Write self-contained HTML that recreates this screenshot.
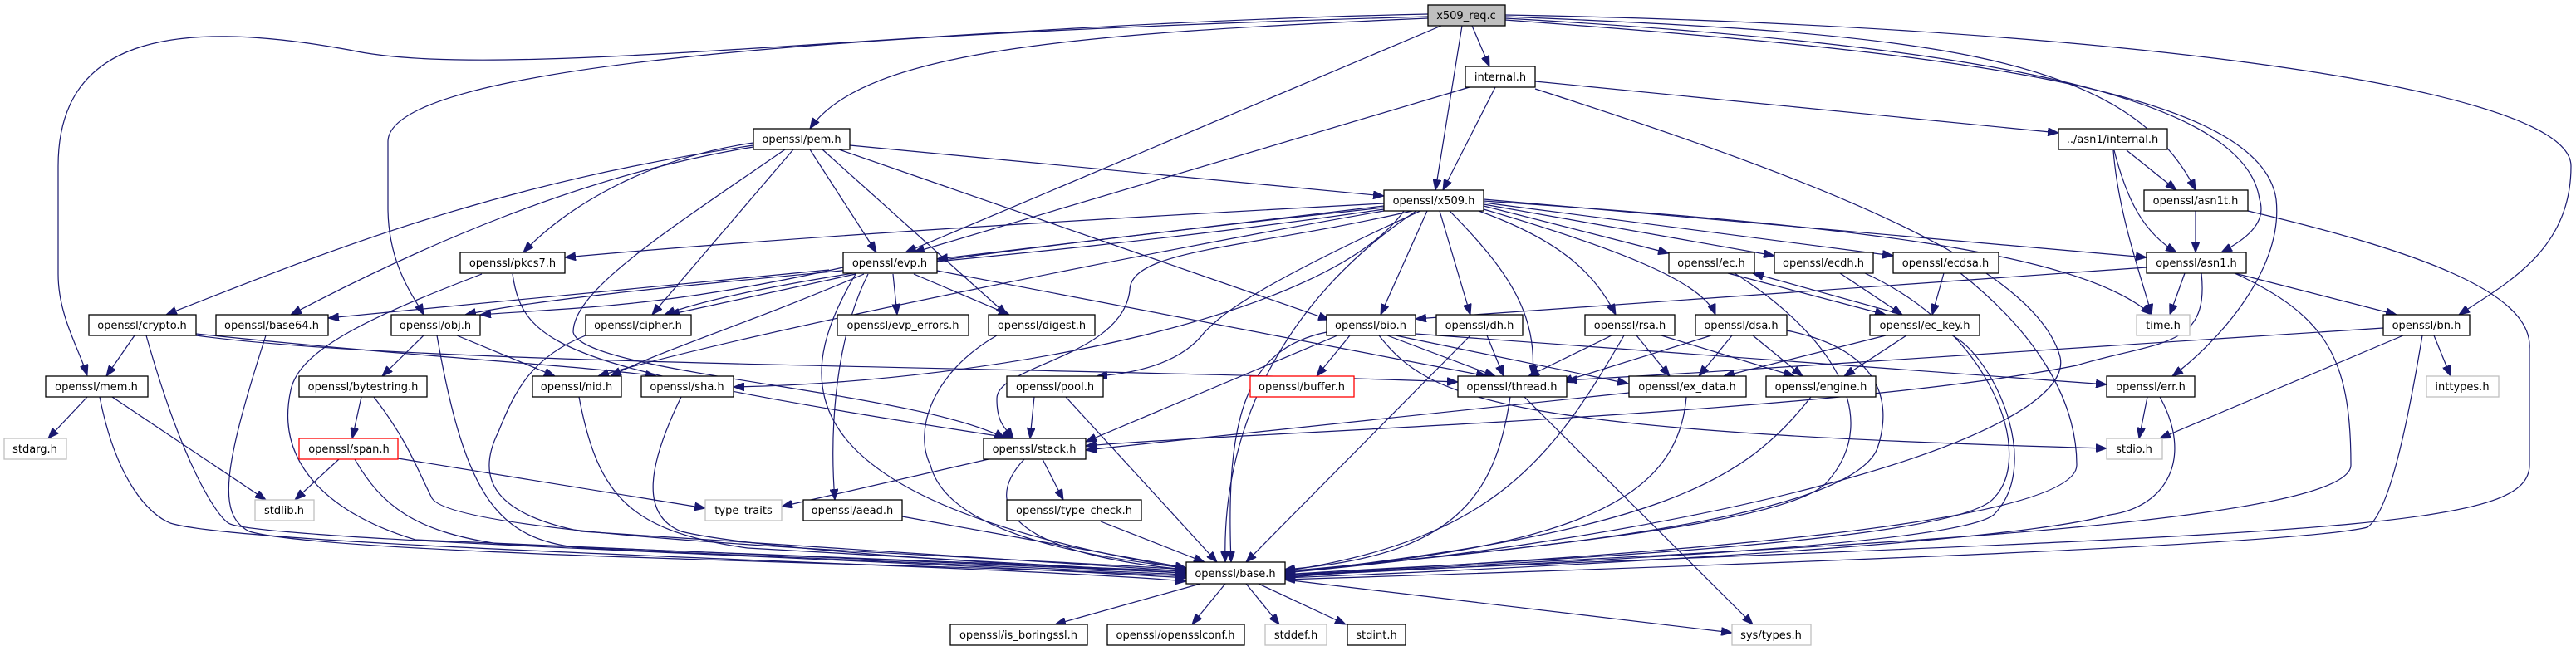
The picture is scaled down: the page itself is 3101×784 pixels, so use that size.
<!DOCTYPE html>
<html><head><meta charset="utf-8"><style>
html,body{margin:0;padding:0;background:#fff;}
svg{display:block;}
.n rect{fill:#fff;stroke:#000;stroke-width:1.3;}
.g rect{fill:#fff;stroke:#bfbfbf;stroke-width:1.3;}
.r rect{fill:#fff;stroke:#ff0000;stroke-width:1.3;}
.s rect{fill:#bfbfbf;stroke:#000;stroke-width:1.3;}
text{font-family:"DejaVu Sans","Liberation Sans",sans-serif;font-size:13px;fill:#000;text-anchor:middle;}
.e path{fill:none;stroke:#191970;stroke-width:1.2;marker-end:url(#a);}
</style></head><body>
<svg width="3101" height="784" viewBox="0 0 3101 784" xmlns="http://www.w3.org/2000/svg">
<defs><marker id="a" markerUnits="userSpaceOnUse" markerWidth="14" markerHeight="10" refX="13" refY="5" orient="auto"><path d="M0,0 L13,5 L0,10 z" fill="#191970" stroke="#191970"/></marker></defs>
<g class="e">
<path d="M1719,17 C1100,30 600,100 420,60 C200,20 70,50 70,200 L70,330 C70,380 95,420 105,452"/>
<path d="M1719,20 C1000,40 470,80 467,170 L467,250 C467,320 500,360 510,379"/>
<path d="M1719,22 C1300,40 1040,60 975,155"/>
<path d="M1735,31 L1090,304"/>
<path d="M1772,31 L1793,80"/>
<path d="M1760,31 L1728,229"/>
<path d="M1812,20 C2300,40 2560,60 2643,229"/>
<path d="M1812,22 C2300,50 2700,100 2720,240 C2730,270 2700,290 2674,304"/>
<path d="M1812,24 C2300,60 2720,100 2740,240 C2750,330 2660,420 2615,453"/>
<path d="M1812,18 C2500,30 3095,100 3095,200 C3095,300 3020,340 2960,379"/>
<path d="M1769,105 L1100,304"/>
<path d="M1800,105 L1737,229"/>
<path d="M1848,98 L2478,160"/>
<path d="M1848,107 C2200,220 2450,320 2480,430 C2500,520 2100,640 1546,690"/>
<path d="M907,175 C600,220 400,300 200,379"/>
<path d="M907,177 C700,210 500,300 350,379"/>
<path d="M907,172 C780,190 680,250 630,304"/>
<path d="M955,180 L785,379"/>
<path d="M975,180 L1055,304"/>
<path d="M990,180 L1212,379"/>
<path d="M1023,175 L1666,236"/>
<path d="M1010,180 L1600,385"/>
<path d="M945,180 C800,280 690,350 690,400 C700,450 1100,470 1210,528"/>
<path d="M2560,181 L2620,229"/>
<path d="M2545,181 C2560,240 2580,280 2620,304"/>
<path d="M2544,181 C2550,260 2580,340 2590,379"/>
<path d="M1666,245 C1200,270 900,290 680,310"/>
<path d="M1666,248 L1128,312"/>
<path d="M1666,250 C1200,300 900,340 800,379"/>
<path d="M1666,252 C1200,320 750,340 560,379"/>
<path d="M1690,254 C1600,380 1200,460 883,466"/>
<path d="M1666,254 C1400,300 900,400 720,453"/>
<path d="M1700,254 C1500,300 1360,300 1360,350 C1350,430 1200,440 1200,480 C1200,510 1210,515 1220,528"/>
<path d="M1710,254 C1500,350 1470,380 1450,400 C1420,440 1360,450 1320,453"/>
<path d="M1705,254 C1560,350 1470,500 1475,677"/>
<path d="M1718,254 L1662,379"/>
<path d="M1733,254 L1770,379"/>
<path d="M1745,254 C1820,330 1850,380 1845,453"/>
<path d="M1780,254 C1880,290 1920,330 1945,379"/>
<path d="M1786,252 C1950,300 2050,340 2065,379"/>
<path d="M1786,248 L2009,305"/>
<path d="M1786,246 L2136,308"/>
<path d="M1786,244 L2279,308"/>
<path d="M1786,240 L2584,310"/>
<path d="M1786,242 C2200,270 2500,300 2590,379"/>
<path d="M2643,254 L2643,304"/>
<path d="M2706,254 C2900,300 3050,350 3045,420 L3045,560 C3045,640 2800,640 1546,692"/>
<path d="M998,325 L395,383"/>
<path d="M1030,330 L805,379"/>
<path d="M1015,322 C800,370 700,370 578,379"/>
<path d="M1100,330 L1215,379"/>
<path d="M1075,330 L1080,379"/>
<path d="M1040,330 C900,390 800,420 735,453"/>
<path d="M1045,330 C1000,420 1000,540 1005,602"/>
<path d="M1030,330 C960,450 920,600 1428,685"/>
<path d="M1128,326 L1790,453"/>
<path d="M2080,329 L2270,379"/>
<path d="M2290,379 L2110,329"/>
<path d="M2088,329 C2200,400 2270,500 2200,580 C2150,640 1700,670 1546,690"/>
<path d="M2215,329 L2290,379"/>
<path d="M2245,329 C2400,400 2450,550 2400,600 C2350,660 1700,680 1546,692"/>
<path d="M2340,329 L2326,379"/>
<path d="M2360,329 C2450,400 2500,480 2500,560 C2500,650 1700,680 1546,694"/>
<path d="M2584,322 L1704,384"/>
<path d="M2630,329 L2612,379"/>
<path d="M2690,329 L2885,379"/>
<path d="M2690,329 C2800,380 2830,430 2830,560 C2830,650 1800,670 1546,696"/>
<path d="M2650,329 C2660,420 2600,410 2500,440 C2200,500 1500,520 1307,537"/>
<path d="M162,404 L128,453"/>
<path d="M176,404 C220,560 260,620 275,630 C300,650 1000,670 1428,696"/>
<path d="M236,404 C500,440 1200,440 1755,460"/>
<path d="M236,402 C500,430 700,440 790,453"/>
<path d="M320,404 C270,560 260,620 300,640 C400,670 1200,680 1428,694"/>
<path d="M510,404 L460,453"/>
<path d="M550,404 L668,453"/>
<path d="M526,404 C560,600 600,650 700,660 L1428,692"/>
<path d="M705,404 C640,430 620,470 600,520 C570,580 600,620 700,640 L1428,688"/>
<path d="M580,330 C450,380 360,420 350,470 C330,560 400,620 500,650 L1428,690"/>
<path d="M617,330 C630,420 680,445 1220,528"/>
<path d="M1200,404 C1120,450 1100,520 1120,560 C1140,640 1300,670 1428,684"/>
<path d="M1625,404 L1585,453"/>
<path d="M1670,404 L1800,453"/>
<path d="M1680,404 L1960,462"/>
<path d="M1704,402 L2536,463"/>
<path d="M1610,404 L1307,532"/>
<path d="M1597,400 C1500,420 1475,500 1482,677"/>
<path d="M1660,404 C1720,480 1800,520 2536,540"/>
<path d="M1790,404 L1810,453"/>
<path d="M1770,404 L1500,677"/>
<path d="M1940,404 L1840,453"/>
<path d="M1970,404 L2010,453"/>
<path d="M2000,404 L2160,453"/>
<path d="M1955,404 C1870,550 1800,650 1546,688"/>
<path d="M2060,404 L1880,460"/>
<path d="M2085,404 L2045,453"/>
<path d="M2110,404 L2170,453"/>
<path d="M2151,398 C2260,420 2280,480 2260,540 C2220,640 1700,670 1546,690"/>
<path d="M2270,404 L2075,453"/>
<path d="M2295,404 L2220,453"/>
<path d="M2350,404 C2400,430 2460,560 2400,620 C2350,660 1800,680 1546,694"/>
<path d="M2869,395 C2500,420 2200,440 1886,458"/>
<path d="M2893,404 L2600,528"/>
<path d="M2930,404 L2950,453"/>
<path d="M2916,404 C2890,560 2870,620 2850,635 C2750,660 1800,690 1546,698"/>
<path d="M105,478 L58,528"/>
<path d="M135,478 L320,602"/>
<path d="M120,478 C140,580 180,620 205,630 C300,660 1200,680 1428,700"/>
<path d="M435,478 L424,528"/>
<path d="M450,478 C490,530 500,560 520,600 C550,650 1200,670 1428,686"/>
<path d="M697,478 C720,600 760,640 900,660 L1428,690"/>
<path d="M820,478 C780,560 770,620 820,640 C900,660 1200,680 1428,690"/>
<path d="M408,553 L355,602"/>
<path d="M479,552 L849,612"/>
<path d="M427,553 C460,610 500,640 600,655 L1428,688"/>
<path d="M1245,478 L1240,528"/>
<path d="M1283,478 L1465,677"/>
<path d="M1818,478 C1800,600 1750,670 1546,686"/>
<path d="M1835,478 L2110,752"/>
<path d="M1961,473 L1307,542"/>
<path d="M2030,478 C2020,600 1900,660 1546,688"/>
<path d="M2180,478 C2100,580 2000,640 1546,690"/>
<path d="M2585,478 L2575,528"/>
<path d="M2600,478 C2640,550 2610,610 2540,620 C2400,660 1700,690 1546,696"/>
<path d="M1190,553 L941,610"/>
<path d="M1255,553 L1280,602"/>
<path d="M1233,553 C1170,620 1250,670 1428,686"/>
<path d="M1086,622 L1428,684"/>
<path d="M1325,628 L1450,677"/>
<path d="M1445,703 L1270,752"/>
<path d="M1475,703 L1435,752"/>
<path d="M1500,703 L1540,752"/>
<path d="M1515,703 L1620,752"/>
<path d="M1546,698 L2085,762"/>
</g>
<g class="s"><rect x="1719" y="6" width="93" height="25"/><text x="1765" y="23">x509_req.c</text></g>
<g class="n"><rect x="1764" y="80" width="84" height="25"/><text x="1806" y="97">internal.h</text></g>
<g class="n"><rect x="907" y="155" width="116" height="25"/><text x="965" y="172">openssl/pem.h</text></g>
<g class="n"><rect x="2478" y="155" width="131" height="25"/><text x="2543" y="172">../asn1/internal.h</text></g>
<g class="n"><rect x="1666" y="229" width="120" height="25"/><text x="1726" y="246">openssl/x509.h</text></g>
<g class="n"><rect x="2581" y="229" width="125" height="25"/><text x="2643" y="246">openssl/asn1t.h</text></g>
<g class="n"><rect x="554" y="304" width="126" height="25"/><text x="617" y="321">openssl/pkcs7.h</text></g>
<g class="n"><rect x="1015" y="304" width="113" height="25"/><text x="1071" y="321">openssl/evp.h</text></g>
<g class="n"><rect x="2009" y="304" width="103" height="25"/><text x="2060" y="321">openssl/ec.h</text></g>
<g class="n"><rect x="2136" y="304" width="119" height="25"/><text x="2195" y="321">openssl/ecdh.h</text></g>
<g class="n"><rect x="2279" y="304" width="127" height="25"/><text x="2342" y="321">openssl/ecdsa.h</text></g>
<g class="n"><rect x="2584" y="304" width="120" height="25"/><text x="2644" y="321">openssl/asn1.h</text></g>
<g class="n"><rect x="107" y="379" width="129" height="25"/><text x="171" y="396">openssl/crypto.h</text></g>
<g class="n"><rect x="260" y="379" width="135" height="25"/><text x="327" y="396">openssl/base64.h</text></g>
<g class="n"><rect x="471" y="379" width="107" height="25"/><text x="524" y="396">openssl/obj.h</text></g>
<g class="n"><rect x="705" y="379" width="127" height="25"/><text x="768" y="396">openssl/cipher.h</text></g>
<g class="n"><rect x="1008" y="379" width="158" height="25"/><text x="1087" y="396">openssl/evp_errors.h</text></g>
<g class="n"><rect x="1190" y="379" width="128" height="25"/><text x="1254" y="396">openssl/digest.h</text></g>
<g class="n"><rect x="1597" y="379" width="107" height="25"/><text x="1650" y="396">openssl/bio.h</text></g>
<g class="n"><rect x="1729" y="379" width="104" height="25"/><text x="1781" y="396">openssl/dh.h</text></g>
<g class="n"><rect x="1908" y="379" width="108" height="25"/><text x="1962" y="396">openssl/rsa.h</text></g>
<g class="n"><rect x="2041" y="379" width="110" height="25"/><text x="2096" y="396">openssl/dsa.h</text></g>
<g class="n"><rect x="2251" y="379" width="132" height="25"/><text x="2317" y="396">openssl/ec_key.h</text></g>
<g class="g"><rect x="2572" y="379" width="64" height="25"/><text x="2604" y="396">time.h</text></g>
<g class="n"><rect x="2869" y="379" width="104" height="25"/><text x="2921" y="396">openssl/bn.h</text></g>
<g class="n"><rect x="55" y="453" width="123" height="25"/><text x="116" y="470">openssl/mem.h</text></g>
<g class="n"><rect x="360" y="453" width="154" height="25"/><text x="437" y="470">openssl/bytestring.h</text></g>
<g class="n"><rect x="641" y="453" width="107" height="25"/><text x="694" y="470">openssl/nid.h</text></g>
<g class="n"><rect x="772" y="453" width="111" height="25"/><text x="827" y="470">openssl/sha.h</text></g>
<g class="n"><rect x="1212" y="453" width="116" height="25"/><text x="1270" y="470">openssl/pool.h</text></g>
<g class="r"><rect x="1505" y="453" width="125" height="25"/><text x="1567" y="470">openssl/buffer.h</text></g>
<g class="n"><rect x="1755" y="453" width="131" height="25"/><text x="1820" y="470">openssl/thread.h</text></g>
<g class="n"><rect x="1961" y="453" width="141" height="25"/><text x="2031" y="470">openssl/ex_data.h</text></g>
<g class="n"><rect x="2126" y="453" width="132" height="25"/><text x="2192" y="470">openssl/engine.h</text></g>
<g class="n"><rect x="2536" y="453" width="106" height="25"/><text x="2589" y="470">openssl/err.h</text></g>
<g class="g"><rect x="2921" y="453" width="87" height="25"/><text x="2964" y="470">inttypes.h</text></g>
<g class="g"><rect x="5" y="528" width="75" height="25"/><text x="42" y="545">stdarg.h</text></g>
<g class="r"><rect x="360" y="528" width="119" height="25"/><text x="420" y="545">openssl/span.h</text></g>
<g class="n"><rect x="1184" y="528" width="123" height="25"/><text x="1245" y="545">openssl/stack.h</text></g>
<g class="g"><rect x="2536" y="528" width="67" height="25"/><text x="2569" y="545">stdio.h</text></g>
<g class="g"><rect x="307" y="602" width="71" height="25"/><text x="342" y="619">stdlib.h</text></g>
<g class="g"><rect x="849" y="602" width="92" height="25"/><text x="895" y="619">type_traits</text></g>
<g class="n"><rect x="967" y="602" width="119" height="25"/><text x="1026" y="619">openssl/aead.h</text></g>
<g class="n"><rect x="1212" y="602" width="162" height="25"/><text x="1293" y="619">openssl/type_check.h</text></g>
<g class="n"><rect x="1428" y="677" width="119" height="26"/><text x="1487" y="695">openssl/base.h</text></g>
<g class="n"><rect x="1144" y="752" width="165" height="25"/><text x="1226" y="769">openssl/is_boringssl.h</text></g>
<g class="n"><rect x="1333" y="752" width="165" height="25"/><text x="1415" y="769">openssl/opensslconf.h</text></g>
<g class="g"><rect x="1523" y="752" width="74" height="25"/><text x="1560" y="769">stddef.h</text></g>
<g class="n"><rect x="1622" y="752" width="70" height="25"/><text x="1657" y="769">stdint.h</text></g>
<g class="g"><rect x="2085" y="752" width="95" height="25"/><text x="2132" y="769">sys/types.h</text></g>
</svg>
</body></html>
